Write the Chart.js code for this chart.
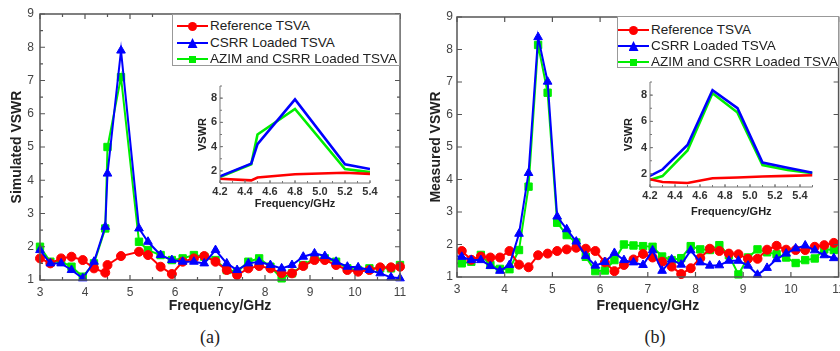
<!DOCTYPE html>
<html><head><meta charset="utf-8">
<script src="https://cdn.jsdelivr.net/npm/chart.js@4/dist/chart.umd.min.js"></script>
<style>
html,body{margin:0;padding:0;background:#fff;width:840px;height:351px;overflow:hidden;font-family:"Liberation Sans",Arial,sans-serif;}
canvas{position:absolute;}
.legend{position:absolute;border:1px solid #999;background:#fff;box-sizing:border-box;}
.row{position:absolute;left:0;width:100%;height:16px;}
.ln{position:absolute;height:2px;top:7px;}
.mk{position:absolute;}
.txt{position:absolute;top:0;font-size:13.5px;line-height:16px;color:#222;white-space:nowrap;}
.cap{position:absolute;font-family:"Liberation Serif","Times New Roman",serif;font-size:18px;line-height:20px;color:#222;width:40px;text-align:center;}
</style></head>
<body>
<canvas id="mainA" width="420" height="320" style="left:0;top:0"></canvas>
<canvas id="mainB" width="420" height="320" style="left:420px;top:0"></canvas>
<canvas id="insetA" width="195" height="140" style="left:185px;top:76px"></canvas>
<canvas id="insetB" width="210" height="150" style="left:615px;top:72px"></canvas>
<div id="legA" class="legend" style="left:172px;top:14px;width:228px;height:52px"></div>
<div id="legB" class="legend" style="left:617px;top:16px;width:222px;height:52px"></div>
<div class="cap" style="left:190px;top:327px">(a)</div>
<div class="cap" style="left:635px;top:327px">(b)</div>
<script>
// ---------- data ----------
const seriesNames = ['Reference TSVA', 'CSRR Loaded TSVA', 'AZIM and CSRR Loaded TSVA'];
const seriesColors = ['#ff0000', '#0000ff', '#00ee00'];

// (a) simulated
const freqA = [3.0,3.23,3.47,3.7,3.95,4.2,4.45,4.5,4.8,5.2,5.4,5.68,5.93,6.17,6.42,6.65,6.9,7.15,7.38,7.63,7.87,8.12,8.37,8.6,8.85,9.1,9.33,9.58,9.83,10.07,10.32,10.56,10.8,11.0];
const simRef  = [1.65,1.5,1.65,1.7,1.6,1.35,1.22,1.45,1.72,1.85,1.75,1.4,1.18,1.55,1.65,1.72,1.55,1.3,1.15,1.35,1.42,1.35,1.2,1.2,1.42,1.6,1.6,1.45,1.3,1.25,1.3,1.38,1.38,1.4];
const simCsrr = [1.9,1.5,1.5,1.3,1.05,1.55,2.6,4.2,7.9,2.55,2.15,1.75,1.6,1.55,1.55,1.5,1.9,1.5,1.3,1.5,1.55,1.45,1.35,1.45,1.7,1.8,1.72,1.55,1.4,1.38,1.3,1.2,1.08,1.05];
const simAzim = [2.0,1.55,1.55,1.4,1.1,1.5,2.55,5.0,7.1,2.15,1.9,1.75,1.6,1.65,1.75,1.7,1.6,1.3,1.25,1.55,1.65,1.4,1.05,1.2,1.45,1.65,1.65,1.55,1.35,1.3,1.35,1.35,1.35,1.45];

// (b) measured
const freqB = [2.9,3.1,3.3,3.5,3.7,3.9,4.1,4.3,4.5,4.7,4.9,5.1,5.3,5.5,5.7,5.9,6.1,6.3,6.5,6.7,6.9,7.1,7.3,7.5,7.7,7.9,8.1,8.3,8.5,8.7,8.9,9.1,9.3,9.5,9.7,9.9,10.1,10.3,10.5,10.7,10.9,11.1];
const measRef  = [1.8,1.8,1.53,1.63,1.6,1.6,1.8,1.38,1.3,1.67,1.72,1.8,1.85,1.9,1.87,1.8,1.45,1.18,1.37,1.54,1.71,1.6,1.47,1.32,1.09,1.27,1.58,1.87,1.8,1.72,1.7,1.56,1.56,1.84,1.96,1.84,1.83,1.83,1.93,1.98,2.05,2.15];
const measCsrr = [1.65,1.62,1.52,1.52,1.34,1.19,1.37,2.33,4.2,8.38,7.01,2.86,2.47,2.09,1.65,1.35,1.46,1.74,1.52,1.45,1.37,1.82,1.19,1.54,1.38,1.82,1.45,1.35,1.36,1.5,1.5,1.35,1.07,1.28,1.55,1.72,1.88,1.97,1.82,1.67,1.58,1.55];
const measAzim = [1.42,1.42,1.47,1.68,1.37,1.25,1.24,1.83,3.78,8.14,6.67,2.67,2.29,2.06,1.62,1.18,1.2,1.52,2.0,1.97,1.95,1.93,1.63,1.52,1.58,1.95,1.85,1.83,1.98,1.67,1.08,1.6,1.85,1.76,1.7,1.6,1.43,1.52,1.57,1.85,1.83,1.83];

// tick labels
const mainXTicks = [3,4,5,6,7,8,9,10,11];
const mainYTicks = [1,2,3,4,5,6,7,8,9];
const insetXTicks = [4.2,4.4,4.6,4.8,5.0,5.2,5.4];
const insetYTicks = [2,4,6,8];

// ---------- helpers ----------
const FF = '"Liberation Sans", Arial, sans-serif';
const markers = [
  {style:'circle', r:4.5},
  {style:'triangle', r:5},
  {style:'rect', r:5.2}
];

const framePlugin = {
  id: 'frame',
  afterDraw(chart, args, o) {
    const {ctx, chartArea: a} = chart;
    const x = chart.scales.x, y = chart.scales.y;
    ctx.save();
    ctx.strokeStyle = o.color; ctx.lineWidth = o.width;
    ctx.beginPath();
    if (o.box) {
      ctx.rect(a.left, a.top, a.right - a.left, a.bottom - a.top);
    } else {
      ctx.moveTo(a.left, a.top); ctx.lineTo(a.left, a.bottom); ctx.lineTo(a.right, a.bottom);
    }
    ctx.stroke();
    ctx.lineWidth = o.tickWidth;
    ctx.beginPath();
    const xt = (v, L) => {
      const p = x.getPixelForValue(v);
      if (p < a.left - 0.5 || p > a.right + 0.5) return;
      ctx.moveTo(p, a.bottom); ctx.lineTo(p, a.bottom - L);
      if (o.box) { ctx.moveTo(p, a.top); ctx.lineTo(p, a.top + L); }
    };
    const yt = (v, L) => {
      const p = y.getPixelForValue(v);
      if (p < a.top - 0.5 || p > a.bottom + 0.5) return;
      ctx.moveTo(a.left, p); ctx.lineTo(a.left + L, p);
      if (o.box) { ctx.moveTo(a.right, p); ctx.lineTo(a.right - L, p); }
    };
    x.ticks.forEach(t => xt(t.value, o.tick));
    y.ticks.forEach(t => yt(t.value, o.tick));
    if (o.xMinor) for (let v = x.min; v <= x.max + 1e-6; v += o.xMinor) xt(v, o.minorTick);
    if (o.yMinor) for (let v = y.min; v <= y.max + 1e-6; v += o.yMinor) yt(v, o.minorTick);
    ctx.stroke();
    ctx.restore();
  }
};

function toPts(freq, vals) { return freq.map((f, i) => ({x: f, y: vals[i]})); }

function makeDatasets(freq, lists, inset, clip) {
  const orders = [1, 0, 2];
  return lists.map((vals, i) => ({
    label: seriesNames[i],
    data: toPts(freq, vals),
    borderColor: seriesColors[i],
    backgroundColor: seriesColors[i],
    borderWidth: inset ? 2.6 : 2,
    pointStyle: markers[i].style,
    pointRadius: inset ? 0 : markers[i].r,
    pointBorderWidth: 1,
    pointHoverRadius: 0,
    tension: 0,
    clip: clip,
    order: orders[i]
  }));
}

function makeChart(id, freq, lists, c) {
  return new Chart(document.getElementById(id), {
    type: 'line',
    data: { datasets: makeDatasets(freq, lists, c.inset, c.clip) },
    options: {
      responsive: false, animation: false, devicePixelRatio: 1,
      events: [],
      layout: { autoPadding: false, padding: { left: 0, right: c.padR, top: c.padT, bottom: 0 } },
      plugins: { legend: { display: false }, tooltip: { enabled: false }, frame: c.frame },
      scales: {
        x: {
          type: 'linear', min: c.xMin, max: c.xMax,
          afterBuildTicks: s => { s.ticks = c.xTicks.map(v => ({value: v})); },
          afterFit: s => { s.height = c.xH; s.paddingLeft = 0; s.paddingRight = 0; },
          grid: { display: false, drawTicks: false, tickLength: 0 }, border: { display: false },
          ticks: {
            autoSkip: false, maxRotation: 0, padding: c.xTickPad, color: c.tickColor,
            font: { family: FF, size: c.tickSize, weight: c.tickWeight },
            callback: v => c.inset ? Number(v).toFixed(1) : String(v)
          },
          title: { display: true, text: 'Frequency/GHz', color: '#222',
            font: { family: FF, size: c.titleSize, weight: 'bold' },
            padding: { top: 0, bottom: c.xTitlePad } }
        },
        y: {
          type: 'linear', min: c.yMin, max: c.yMax,
          afterBuildTicks: s => { s.ticks = c.yTicks.map(v => ({value: v})); },
          afterFit: s => { s.width = c.yW; s.paddingTop = 0; s.paddingBottom = 0; },
          grid: { display: false, drawTicks: false, tickLength: 0 }, border: { display: false },
          ticks: {
            padding: c.yTickPad, color: c.tickColor,
            font: { family: FF, size: c.tickSize, weight: c.tickWeight }
          },
          title: { display: true, text: c.yTitle, color: '#222',
            font: { family: FF, size: c.titleSize, weight: 'bold' },
            padding: { top: c.yTitlePad, bottom: 0 } }
        }
      }
    },
    plugins: [framePlugin]
  });
}

// ---------- charts ----------
makeChart('mainA', freqA, [simRef, simCsrr, simAzim], {
  inset: false, clip: false, padR: 20, padT: 14, xH: 40, yW: 40,
  xMin: 3, xMax: 11, yMin: 1, yMax: 9, xTicks: mainXTicks, yTicks: mainYTicks,
  tickSize: 12, tickWeight: 'normal', tickColor: '#444', titleSize: 14,
  xTickPad: 5, xTitlePad: 5, yTickPad: 6, yTitlePad: 9, yTitle: 'Simulated VSWR',
  frame: { box: true, color: '#555', width: 1.5, tickWidth: 1.2, tick: 5, minorTick: 3, xMinor: 0.5, yMinor: 0.5 }
});
makeChart('mainB', freqB, [measRef, measCsrr, measAzim], {
  inset: false, clip: {left: 0, right: 0, top: false, bottom: false}, padR: 1.4, padT: 17, xH: 43, yW: 37,
  xMin: 3, xMax: 11, yMin: 1, yMax: 9, xTicks: mainXTicks, yTicks: mainYTicks,
  tickSize: 12, tickWeight: 'normal', tickColor: '#444', titleSize: 14,
  xTickPad: 5, xTitlePad: 5.6, yTickPad: 4, yTitlePad: 7.5, yTitle: 'Measured VSWR',
  frame: { box: true, color: '#555', width: 1.5, tickWidth: 1.2, tick: 5, minorTick: 3, xMinor: 0, yMinor: 0 }
});
makeChart('insetA', freqA, [simRef, simCsrr, simAzim], {
  inset: true, clip: 0, padR: 10, padT: 10, xH: 33, yW: 35,
  xMin: 4.2, xMax: 5.4, yMin: 1, yMax: 9, xTicks: insetXTicks, yTicks: insetYTicks,
  tickSize: 11, tickWeight: 'bold', tickColor: '#333', titleSize: 11,
  xTickPad: 2, xTitlePad: 5, yTickPad: 3, yTitlePad: 11, yTitle: 'VSWR',
  frame: { box: false, color: '#777', width: 1, tickWidth: 1, tick: 3, minorTick: 2, xMinor: 0.1, yMinor: 1 }
});
makeChart('insetB', freqB, [measRef, measCsrr, measAzim], {
  inset: true, clip: 0, padR: 12.5, padT: 10, xH: 35, yW: 35,
  xMin: 4.2, xMax: 5.5, yMin: 1, yMax: 9, xTicks: insetXTicks, yTicks: insetYTicks,
  tickSize: 11, tickWeight: 'bold', tickColor: '#333', titleSize: 11,
  xTickPad: 2, xTitlePad: 3.4, yTickPad: 3, yTitlePad: 7, yTitle: 'VSWR',
  frame: { box: false, color: '#777', width: 1, tickWidth: 1, tick: 3, minorTick: 2, xMinor: 0.1, yMinor: 1 }
});

// ---------- legends ----------
function buildLegend(id, rowsY, lineLeft, lineW, textLeft) {
  const box = document.getElementById(id);
  seriesNames.forEach((name, i) => {
    const row = document.createElement('div');
    row.className = 'row'; row.style.top = (rowsY[i] - 8) + 'px';
    const ln = document.createElement('div');
    ln.className = 'ln'; ln.style.left = lineLeft + 'px'; ln.style.width = lineW + 'px';
    ln.style.background = seriesColors[i];
    row.appendChild(ln);
    const mk = document.createElement('div');
    mk.className = 'mk';
    const cx = lineLeft + lineW / 2;
    const sz = [9, 10, 7][i];
    mk.style.width = sz + 'px'; mk.style.height = sz + 'px';
    mk.style.left = (cx - sz / 2) + 'px'; mk.style.top = (8 - sz / 2) + 'px';
    mk.style.background = seriesColors[i];
    if (i === 0) mk.style.borderRadius = '50%';
    if (i === 1) mk.style.clipPath = 'polygon(50% 0, 100% 100%, 0 100%)';
    row.appendChild(mk);
    const t = document.createElement('div');
    t.className = 'txt'; t.style.left = textLeft + 'px'; t.textContent = name;
    row.appendChild(t);
    box.appendChild(row);
  });
}
buildLegend('legA', [11, 28, 44], 4, 31, 37);
buildLegend('legB', [13, 29, 45], 0, 31, 33);
</script>
</body></html>
